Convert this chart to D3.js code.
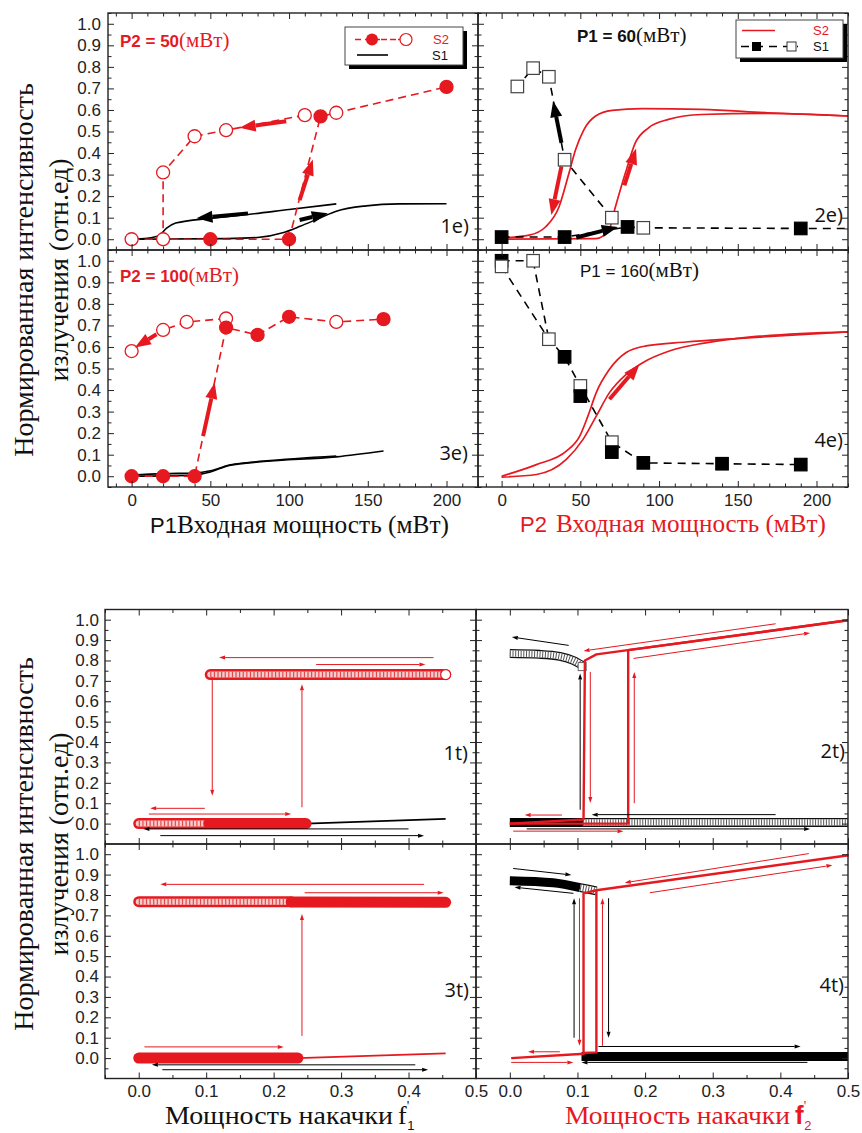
<!DOCTYPE html>
<html>
<head>
<meta charset="utf-8">
<script src="https://cdn.jsdelivr.net/npm/d3@7"></script>
<style>
  body { margin: 0; background: #fff; }
  svg { display: block; }
  .sans { font-family: "Liberation Sans", Arial, sans-serif; }
  .serif { font-family: "Liberation Serif", "Times New Roman", serif; }
  .lab { font-family: "Open Sans", sans-serif; }
</style>
</head>
<body>
<div id="chart"></div>
<script>
const RED = "#e5191f";

// ---- tick values ----
const topXTicks = [0, 50, 100, 150, 200];
const topXMinor = [-10, 10, 20, 30, 40, 60, 70, 80, 90, 110, 120, 130, 140, 160, 170, 180, 190, 210, 220];
const botXTicks = [0, 0.1, 0.2, 0.3, 0.4, 0.5];
const botXMinor = [-0.05, 0.05, 0.15, 0.25, 0.35, 0.45];
const yTicks = [0, 0.1, 0.2, 0.3, 0.4, 0.5, 0.6, 0.7, 0.8, 0.9, 1.0];
const yMinor = [-0.05, 0.05, 0.15, 0.25, 0.35, 0.45, 0.55, 0.65, 0.75, 0.85, 0.95, 1.05];
const yMinorBot = [-0.05, 0.05, 0.15, 0.25, 0.35, 0.45, 0.55, 0.65, 0.75, 0.85, 0.95];

// ---- 1e) P2 = 50 mW ----
const e1S2Filled = [[50, 0], [100, 0], [120, 0.57], [200, 0.707]];
const e1S2Open = [[0, 0], [20, 0], [20, 0.31], [40, 0.478], [60, 0.506], [110, 0.576], [130, 0.587]];
const e1S2Up = [[0, 0], [100, 0], [120, 0.57], [130, 0.587], [200, 0.707]];
const e1S2Down = [[110, 0.576], [60, 0.506], [40, 0.478], [20, 0.31], [20, 0]];
const e1S1Up = [[0, 0], [60, 0.003], [80, 0.008], [96, 0.03], [107, 0.06], [120, 0.1], [130, 0.13], [149, 0.155], [170, 0.164], [200, 0.165]];
const e1S1Down = [[0, 0], [10, 0.004], [18, 0.02], [22, 0.05], [28, 0.075], [50, 0.097], [74, 0.115], [100, 0.138], [130, 0.164]];
const e1Arrows = [[106.7, 0.182, 115.1, 0.37, "r"], [98.2, 0.548, 68.6, 0.517, "r"], [106.7, 0.089, 124.6, 0.12, "k"], [73.9, 0.12, 41.2, 0.097, "k"]];

// ---- 2e) P1 = 60 mW ----
const e2S1Filled = [[0, 0.01], [40, 0.01], [80, 0.057], [190, 0.05]];
const e2S1Open = [[90, 0.053], [70, 0.1], [40, 0.369], [30, 0.754], [20, 0.794], [10, 0.709]];
const e2S1Up = [[0, 0.01], [40, 0.01], [80, 0.057], [90, 0.053], [190, 0.05], [220, 0.05]];
const e2S1Down = [[70, 0.1], [40, 0.369], [30, 0.754], [20, 0.794], [10, 0.709]];
const e2S2Back = [[0, 0.006], [17.5, 0.019], [28, 0.058], [36.5, 0.151], [42.8, 0.307], [47, 0.416], [52.3, 0.509], [59.7, 0.572], [70.2, 0.598], [89.2, 0.606], [127, 0.603], [169, 0.587], [220, 0.572]];
const e2S2Fwd = [[0, 0], [59.7, 0.003], [68.1, 0.042], [72.3, 0.151], [78.6, 0.307], [84.9, 0.447], [93.3, 0.517], [106, 0.556], [127, 0.579], [169, 0.584], [220, 0.572]];
const e2Arrows = [[38, 0.447, 32.7, 0.641, "k"], [47.4, 0.008, 73.8, 0.057, "k"], [38, 0.338, 31.6, 0.112, "r"], [78, 0.25, 85.4, 0.421, "r"]];

// ---- 3e) P2 = 100 mW ----
const e3S2Filled = [[0, 0], [20, 0], [40, 0], [60, 0.69], [80, 0.656], [100, 0.74], [160, 0.729]];
const e3S2Open = [[130, 0.716], [60, 0.732], [35, 0.716], [20, 0.679], [0, 0.581]];
const e3S2Up = [[0, 0], [40, 0], [60, 0.69], [80, 0.656], [100, 0.74], [130, 0.716], [160, 0.729]];
const e3S2Down = [[60, 0.732], [35, 0.716], [20, 0.679]];
const e3S1a = [[0, 0], [40, 0.005], [50, 0.02], [62, 0.05], [84, 0.068], [130, 0.09], [160, 0.117]];
const e3S1b = [[0, 0.005], [20, 0.012], [40, 0.015], [50, 0.025], [62, 0.052], [84, 0.07], [130, 0.094]];
const e3Arrows = [[45.4, 0.186, 52.8, 0.434, "r"], [15.8, 0.659, 2.1, 0.597, "r"]];

// ---- 4e) P1 = 160 mW ----
const e4S1Filled = [[0, 1.0], [40, 0.554], [50, 0.372], [70, 0.112], [90, 0.062], [140, 0.058], [190, 0.054]];
const e4S1Open = [[0, 0.974], [20, 1.0], [30, 0.636], [50, 0.419], [70, 0.158]];
const e4S1Up = [[0, 1.0], [20, 1.0]];
const e4S1Down = [[0, 0.974], [30, 0.636], [40, 0.554], [50, 0.419], [70, 0.158], [90, 0.062], [140, 0.058], [190, 0.054]];
const e4S1Down2 = [[20, 1.0], [30, 0.636]];
const e4S2a = [[0, 0], [22.1, 0.054], [41.1, 0.116], [49.6, 0.186], [54.8, 0.279], [60.1, 0.388], [68.5, 0.496], [79.1, 0.574], [91.7, 0.605], [117, 0.623], [148.7, 0.639], [220, 0.67]];
const e4S2b = [[0, -0.004], [22.1, 0.008], [41.1, 0.078], [51.7, 0.171], [60.1, 0.279], [68.5, 0.388], [79.1, 0.473], [89.6, 0.527], [106.5, 0.581], [127.6, 0.617], [148.7, 0.639], [220, 0.67]];
const e4Arrows = [[68.5, 0.357, 87.5, 0.519, "r"]];

// ---- 1t) ----
const t1OpenBands = [[[0.106, 0.731], [0.455, 0.731]], [[0, 0], [0.104, 0]]];
const t1FilledBands = [[[0.104, 0], [0.248, 0]]];
const t1S1 = [[0.248, 0], [0.455, 0.023]];
const t1End = [[0.455, 0.731]];
const t1Arrows = [[0.437, 0.814, 0.119, 0.814, "r"], [0.263, 0.78, 0.425, 0.78, "r"], [0.109, 0.72, 0.109, 0.137, "r"], [0.242, 0.08, 0.242, 0.683, "r"], [0.098, 0.075, 0.017, 0.075, "r"], [0.015, 0.047, 0.226, 0.047, "r"], [0.40, -0.026, 0.007, -0.026, "k"], [0.032, -0.059, 0.423, -0.059, "k"]];

// ---- 2t) ----
const t2HatchBands = [[[0, 0.834], [0.044, 0.83], [0.074, 0.82], [0.094, 0.80], [0.107, 0.776]], [[0.108, 0.006], [0.5, 0.006]]];
const t2FilledBands = [[[0, 0.006], [0.108, 0.006]]];
const t2OpenSquare = [[0.107, 0.77]];
const t2S2Fwd = [[0, 0], [0.175, 0], [0.175, 0.851], [0.5, 0.997]];
const t2S2Back = [[0.5, 0.997], [0.128, 0.83], [0.111, 0.80], [0.109, 0.02], [0, 0]];
const t2Arrows = [[0.087, 0.874, 0.003, 0.915, "k"], [0.104, 0.068, 0.104, 0.736, "k"], [0.393, 0.044, 0.121, 0.044, "k"], [0.025, -0.026, 0.444, -0.026, "k"], [0.393, 0.98, 0.109, 0.847, "r"], [0.183, 0.81, 0.444, 0.935, "r"], [0.119, 0.744, 0.119, 0.101, "r"], [0.184, 0.10, 0.184, 0.744, "r"], [0.077, 0.042, 0.022, 0.042, "r"], [0.005, -0.037, 0.168, -0.037, "r"]];

// ---- 3t) ----
const t3OpenBands = [[[0, 0.767], [0.226, 0.767]]];
const t3FilledBands = [[[0.226, 0.766], [0.455, 0.764]], [[0, 0], [0.236, 0]]];
const t3S2 = [[0.236, 0], [0.455, 0.023]];
const t3Arrows = [[0.423, 0.852, 0.032, 0.852, "r"], [0.246, 0.811, 0.452, 0.811, "r"], [0.242, 0.109, 0.242, 0.707, "r"], [0.0085, 0.055, 0.215, 0.055, "r"], [0.41, -0.033, 0.0195, -0.033, "k"], [0.035, -0.057, 0.429, -0.057, "k"]];

// ---- 4t) ----
const t4FilledBands = [[[0, 0.87], [0.064, 0.86], [0.104, 0.836]], [[0.106, 0.008], [0.5, 0.008]]];
const t4HatchBands = [[[0.104, 0.836], [0.118, 0.827], [0.128, 0.82]]];
const t4S2a = [[0.002, 0], [0.104, 0.02], [0.109, 0.02], [0.109, 0.808], [0.128, 0.823], [0.501, 0.995]];
const t4S2b = [[0.109, 0.025], [0.128, 0.028], [0.128, 0.823]];
const t4Arrows = [[0.005, 0.93, 0.091, 0.898, "k"], [0.094, 0.808, 0.007, 0.838, "k"], [0.095, 0.10, 0.095, 0.784, "k"], [0.146, 0.784, 0.146, 0.10, "k"], [0.131, 0.057, 0.43, 0.057, "k"], [0.44, -0.021, 0.106, -0.021, "k"], [0.442, 1.003, 0.17, 0.86, "r"], [0.207, 0.811, 0.477, 0.946, "r"], [0.103, 0.784, 0.103, 0.06, "r"], [0.137, 0.06, 0.137, 0.784, "r"], [0.074, 0.031, 0.027, 0.031, "r"], [0.002, -0.021, 0.094, -0.021, "r"]];

const svg = d3.select("#chart").append("svg")
  .attr("width", 862)
  .attr("height", 1133);

// panel with inward ticks on all four sides
function makePanel(b, o) {
  let x = d3.scaleLinear().domain(o.xd).range([b.x, b.x + b.w]);
  let y = d3.scaleLinear().domain(o.yd).range([b.y + b.h, b.y]);
  let g = svg.append("g");
  let axes = g.append("g");
  let sides = [
    [d3.axisBottom, x, `translate(0,${b.y + b.h})`, o.xMajor, o.xMinor, o.showX, o.xFmt],
    [d3.axisTop, x, `translate(0,${b.y})`, o.xMajor, o.xMinor, false, null],
    [d3.axisLeft, y, `translate(${b.x},0)`, yTicks, o.yMinor, o.showY, d3.format(".1f")],
    [d3.axisRight, y, `translate(${b.x + b.w},0)`, yTicks, o.yMinor, false, null]
  ];
  sides.forEach(([ctor, sc, tr, maj, min, lab, fmt]) => {
    axes.append("g").attr("transform", tr)
      .call(ctor(sc).tickValues(min).tickSize(-3.5).tickFormat(""));
    axes.append("g").attr("transform", tr)
      .call(ctor(sc).tickValues(maj).tickSize(-6).tickPadding(o.pad).tickFormat(lab ? fmt : ""));
  });
  axes.selectAll(".domain").remove();
  axes.selectAll("g").attr("font-family", null).attr("class", "sans");
  axes.selectAll("line").attr("stroke", "#222").attr("stroke-width", 1);
  axes.selectAll("text").attr("font-size", 17).attr("fill", "#222");
  g.append("rect").attr("x", b.x).attr("y", b.y).attr("width", b.w).attr("height", b.h)
    .attr("fill", "none").attr("stroke", "#222").attr("stroke-width", 1.4);
  return { g: g.insert("g", "g"), x, y };
}

function path(p, pts, color, w, dash, curve) {
  let ln = d3.line().x(d => p.x(d[0])).y(d => p.y(d[1])).curve(curve || d3.curveLinear);
  p.g.append("path").attr("d", ln(pts)).attr("fill", "none")
    .attr("stroke", color).attr("stroke-width", w)
    .attr("stroke-dasharray", dash || null)
    .attr("stroke-linejoin", "round");
}

function circles(p, pts, filled) {
  p.g.selectAll(null).data(pts).enter().append("circle")
    .attr("cx", d => p.x(d[0])).attr("cy", d => p.y(d[1])).attr("r", 6.5)
    .attr("fill", filled ? RED : "#fff").attr("stroke", RED).attr("stroke-width", 1.3);
}

function squares(p, pts, filled, s) {
  s = s || 12.5;
  p.g.selectAll(null).data(pts).enter().append("rect")
    .attr("x", d => p.x(d[0]) - s / 2).attr("y", d => p.y(d[1]) - s / 2)
    .attr("width", s).attr("height", s)
    .attr("fill", filled ? "#000" : "#fff").attr("stroke", filled ? "#000" : "#444").attr("stroke-width", 1.2);
}

function arrows(p, list, sw, hl, hw) {
  list.forEach(a => {
    let color = a[4] === "r" ? RED : "#000";
    let x1 = p.x(a[0]), y1 = p.y(a[1]), x2 = p.x(a[2]), y2 = p.y(a[3]);
    let L = Math.hypot(x2 - x1, y2 - y1), ux = (x2 - x1) / L, uy = (y2 - y1) / L;
    let bx = x2 - ux * hl, by = y2 - uy * hl;
    p.g.append("line").attr("x1", x1).attr("y1", y1).attr("x2", bx).attr("y2", by)
      .attr("stroke", color).attr("stroke-width", sw);
    p.g.append("path")
      .attr("d", `M${x2},${y2}L${bx - uy * hw},${by + ux * hw}L${bx + uy * hw},${by - ux * hw}Z`)
      .attr("fill", color);
  });
}

// dense marker bands drawn as textured strokes
function bands(p, list, kind, curve) {
  let ln = d3.line().x(d => p.x(d[0])).y(d => p.y(d[1])).curve(curve || d3.curveLinear);
  list.forEach(pts => {
    let d = ln(pts);
    let add = (c, w, dash, cap) => p.g.append("path").attr("d", d).attr("fill", "none")
      .attr("stroke", c).attr("stroke-width", w).attr("stroke-dasharray", dash || null)
      .attr("stroke-linecap", cap || "butt");
    if (kind === "redOpen") {
      add(RED, 11, null, "round");
      add("#f7cccc", 6, null, "round");
      add("#e04a4a", 6, "1.2,2.4");
    } else if (kind === "redFilled") {
      add(RED, 11, null, "round");
    } else if (kind === "blackFilled") {
      add("#000", 9);
    } else {
      add("#111", 9);
      add("#fff", 6.4);
      add("#555", 6.4, "1,1.7");
    }
  });
}

const topOpts = { xd: [-15, 220], yd: [-0.05, 1.05], xMajor: topXTicks, xMinor: topXMinor, yMinor: yMinor, xFmt: d3.format("d"), pad: 7 };
const botOpts = { xd: [-0.05, 0.5], yd: [-0.1, 1.05], xMajor: botXTicks, xMinor: botXMinor, yMinor: yMinorBot, xFmt: d3.format(".1f"), pad: 6 };

// ===== top figure =====
let p1 = makePanel({ x: 108, y: 13, w: 370, h: 237 }, { ...topOpts, showX: false, showY: true });
path(p1, e1S1Up, "#000", 1.6, null, d3.curveMonotoneX);
path(p1, e1S1Down, "#000", 1.6, null, d3.curveMonotoneX);
path(p1, e1S2Up, RED, 1.6, "8,5");
path(p1, e1S2Down, RED, 1.6, "8,5");
circles(p1, e1S2Open, false);
circles(p1, e1S2Filled, true);
arrows(p1, e1Arrows, 4, 16, 6);

let p2 = makePanel({ x: 478, y: 13, w: 370, h: 237 }, { ...topOpts, showX: false, showY: false });
path(p2, e2S2Back, RED, 1.7, null, d3.curveMonotoneX);
path(p2, e2S2Fwd, RED, 1.7, null, d3.curveMonotoneX);
path(p2, e2S1Up, "#000", 1.6, "8,6");
path(p2, e2S1Down, "#000", 1.6, "8,6");
arrows(p2, e2Arrows, 4, 16, 6);
squares(p2, e2S1Open, false);
squares(p2, e2S1Filled, true);

let p3 = makePanel({ x: 108, y: 250, w: 370, h: 237 }, { ...topOpts, showX: true, showY: true });
path(p3, e3S1a, "#000", 1.6, null, d3.curveMonotoneX);
path(p3, e3S1b, "#000", 1.6, null, d3.curveMonotoneX);
path(p3, e3S2Up, RED, 1.6, "8,5");
path(p3, e3S2Down, RED, 1.6, "8,5");
circles(p3, e3S2Open, false);
circles(p3, e3S2Filled, true);
arrows(p3, e3Arrows, 4, 16, 6);

let p4 = makePanel({ x: 478, y: 250, w: 370, h: 237 }, { ...topOpts, showX: true, showY: false });
path(p4, e4S2a, RED, 1.7, null, d3.curveMonotoneX);
path(p4, e4S2b, RED, 1.7, null, d3.curveMonotoneX);
path(p4, e4S1Up, "#000", 1.6, "8,6");
path(p4, e4S1Down, "#000", 1.6, "8,6");
path(p4, e4S1Down2, "#000", 1.6, "8,6");
squares(p4, e4S1Filled.slice(0, 1), true);
squares(p4, e4S1Open, false);
squares(p4, e4S1Filled.slice(1), true);
arrows(p4, e4Arrows, 4, 16, 6);

// ===== bottom figure =====
let q1 = makePanel({ x: 105, y: 609.5, w: 371, h: 234.5 }, { ...botOpts, showX: false, showY: true });
path(q1, t1S1, "#000", 1.6);
bands(q1, t1OpenBands, "redOpen");
bands(q1, t1FilledBands, "redFilled");
q1.g.selectAll(null).data(t1End).enter().append("circle")
  .attr("cx", d => q1.x(d[0])).attr("cy", d => q1.y(d[1])).attr("r", 5)
  .attr("fill", "#fff").attr("stroke", RED).attr("stroke-width", 1.2);
arrows(q1, t1Arrows, 1, 6, 2);

let q2 = makePanel({ x: 476, y: 609.5, w: 372, h: 234.5 }, { ...botOpts, showX: false, showY: false });
bands(q2, t2HatchBands, "blackHatch", d3.curveMonotoneX);
bands(q2, t2FilledBands, "blackFilled");
q2.g.selectAll(null).data(t2OpenSquare).enter().append("rect")
  .attr("x", d => q2.x(d[0]) - 4).attr("y", d => q2.y(d[1]) - 4).attr("width", 8).attr("height", 8)
  .attr("fill", "#fff").attr("stroke", "#666").attr("stroke-width", 1);
path(q2, t2S2Fwd, RED, 2.4);
path(q2, t2S2Back, RED, 2.4);
arrows(q2, t2Arrows, 1, 6, 2);

let q3 = makePanel({ x: 105, y: 844, w: 371, h: 234.5 }, { ...botOpts, showX: true, showY: true });
path(q3, t3S2, RED, 1.6);
bands(q3, t3OpenBands, "redOpen");
bands(q3, t3FilledBands, "redFilled");
arrows(q3, t3Arrows, 1, 6, 2);

let q4 = makePanel({ x: 476, y: 844, w: 372, h: 234.5 }, { ...botOpts, showX: true, showY: false });
bands(q4, t4FilledBands, "blackFilled", d3.curveMonotoneX);
bands(q4, t4HatchBands, "blackHatch", d3.curveMonotoneX);
path(q4, t4S2a, RED, 2.4);
path(q4, t4S2b, RED, 2.4);
arrows(q4, t4Arrows, 1, 6, 2);

// ===== texts =====
// each font run is its own <text>, placed after the previous one
function runs(x, y, parts, anchorEnd) {
  let cx = x, made = [];
  parts.forEach(pt => {
    let t = svg.append("text")
      .attr("class", pt.f || "sans")
      .attr("x", cx + (pt.dx || 0)).attr("y", y + (pt.dy || 0))
      .attr("font-size", pt.s).attr("fill", pt.c || "#111")
      .text(pt.t);
    if (pt.w) t.attr("font-weight", pt.w);
    if (pt.len) t.attr("textLength", pt.len).attr("lengthAdjust", "spacingAndGlyphs");
    cx += (pt.dx || 0) + (pt.len || t.node().getComputedTextLength());
    made.push(t);
  });
  if (anchorEnd) {
    let shift = cx - x;
    made.forEach(t => t.attr("x", +t.attr("x") - shift));
  }
}

// y titles
[270, 844].forEach(cy => {
  [["Нормированная интенсивность", 33], ["излучения (отн.ед)", 68]].forEach(([s, x]) => {
    svg.append("text").attr("class", "serif")
      .attr("transform", `translate(${x},${cy}) rotate(-90)`)
      .attr("text-anchor", "middle").attr("font-size", 28).attr("fill", "#111")
      .text(s);
  });
});

// top x titles
runs(150, 533, [{ t: "P1", s: 22 }, { t: "Входная мощность (мВт)", f: "serif", s: 25, len: 272 }]);
runs(520, 532, [{ t: "P2", s: 22, c: RED }, { t: "Входная мощность (мВт)", f: "serif", s: 25, c: RED, dx: 9, len: 270 }]);

// bottom x titles
runs(165, 1124, [{ t: "Мощность накачки", f: "serif", s: 25, len: 228 }, { t: "f", f: "serif", s: 26, dx: 5 }, { t: "'", f: "serif", s: 14, dy: -13 }, { t: "1", s: 13, dy: 6, dx: -2 }]);
runs(565, 1124, [{ t: "Мощность накачки", f: "serif", s: 25, c: RED, len: 225 }, { t: "f", s: 26, w: "bold", c: RED, dx: 5 }, { t: "'", f: "serif", s: 14, dy: -13, c: RED }, { t: "2", s: 13, dy: 6, dx: -2, c: RED }]);

// annotations
runs(120, 47, [{ t: "P2 = 50", s: 17, w: "bold", c: RED }, { t: "(мВт)", f: "serif", s: 21, c: RED }]);
runs(120, 282, [{ t: "P2 = 100", s: 17, w: "bold", c: RED }, { t: "(мВт)", f: "serif", s: 21, c: RED }]);
runs(577, 42, [{ t: "P1 = 60", s: 17, w: "bold" }, { t: "(мВт)", f: "serif", s: 21 }]);
runs(580, 277, [{ t: "P1 = 160", s: 17 }, { t: "(мВт)", f: "serif", s: 21 }]);

// panel labels
const panelLabels = [["1e)", 469, 233], ["2e)", 843, 222], ["3e)", 468, 460], ["4e)", 843, 447],
  ["1t)", 468, 760], ["2t)", 845, 758], ["3t)", 469, 997], ["4t)", 844, 992]];
panelLabels.forEach(([t, x, y]) => runs(x, y, [{ t, f: "lab", s: 20 }], true));

// legends
function legendBox(x, y, w, h) {
  svg.append("rect").attr("x", x + 4).attr("y", y + 4).attr("width", w).attr("height", h).attr("fill", "#000");
  svg.append("rect").attr("x", x).attr("y", y).attr("width", w).attr("height", h).attr("fill", "#fff").attr("stroke", "#444").attr("stroke-width", 1);
}
legendBox(345, 27, 118, 38);
svg.append("line").attr("x1", 355).attr("x2", 403).attr("y1", 39.5).attr("y2", 39.5).attr("stroke", RED).attr("stroke-width", 1.6).attr("stroke-dasharray", "6,4");
svg.append("line").attr("x1", 380).attr("x2", 398).attr("y1", 39.5).attr("y2", 39.5).attr("stroke", "#fff").attr("stroke-width", 3);
svg.append("line").attr("x1", 381).attr("x2", 396).attr("y1", 39.5).attr("y2", 39.5).attr("stroke", RED).attr("stroke-width", 1.6).attr("stroke-dasharray", "6,3");
svg.append("circle").attr("cx", 372).attr("cy", 39.5).attr("r", 6).attr("fill", RED);
svg.append("circle").attr("cx", 406).attr("cy", 39.5).attr("r", 6).attr("fill", "#fff").attr("stroke", RED).attr("stroke-width", 1.2);
svg.append("line").attr("x1", 357).attr("x2", 388).attr("y1", 55).attr("y2", 55).attr("stroke", "#000").attr("stroke-width", 1.6);
runs(433, 44, [{ t: "S2", s: 13, c: RED }]);
runs(432, 60, [{ t: "S1", s: 13 }]);

legendBox(736, 20, 107, 38);
svg.append("line").attr("x1", 742).attr("x2", 775).attr("y1", 30.5).attr("y2", 30.5).attr("stroke", RED).attr("stroke-width", 1.6);
svg.append("line").attr("x1", 741).attr("x2", 798).attr("y1", 46.5).attr("y2", 46.5).attr("stroke", "#000").attr("stroke-width", 1.6).attr("stroke-dasharray", "8,6");
svg.append("rect").attr("x", 752).attr("y", 42).attr("width", 9).attr("height", 9).attr("fill", "#000");
svg.append("rect").attr("x", 787).attr("y", 42).attr("width", 9).attr("height", 9).attr("fill", "#fff").attr("stroke", "#333");
runs(813, 35, [{ t: "S2", s: 13, c: RED }]);
runs(813, 51, [{ t: "S1", s: 13 }]);
</script>
</body>
</html>
